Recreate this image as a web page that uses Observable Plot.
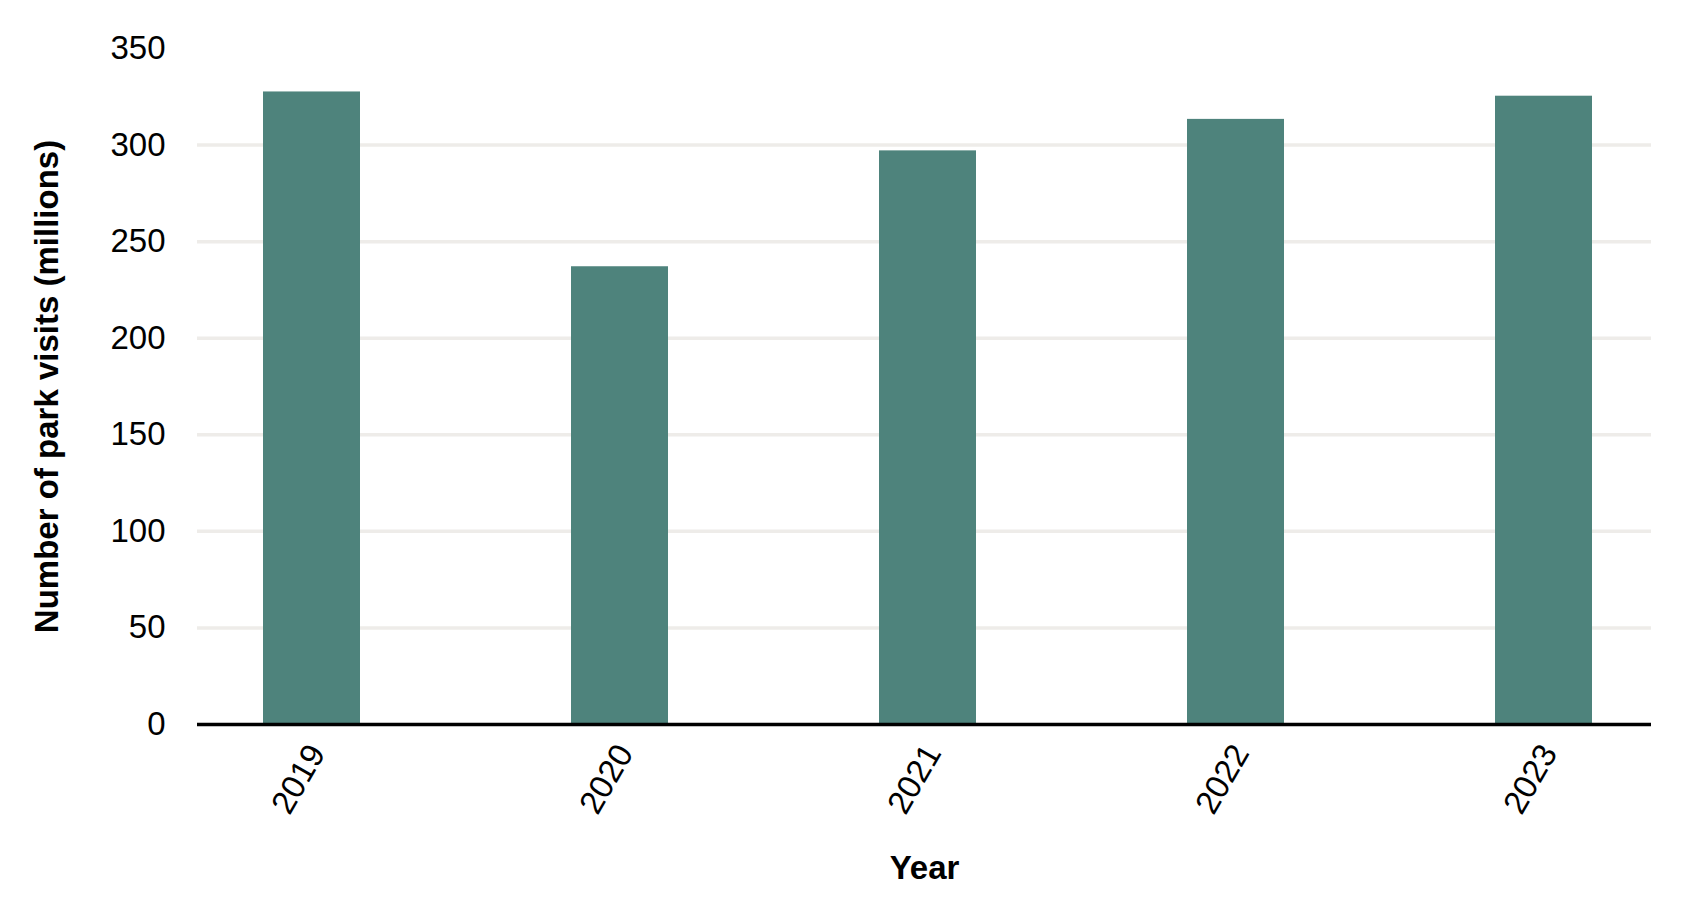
<!DOCTYPE html>
<html>
<head>
<meta charset="utf-8">
<script src="https://cdn.jsdelivr.net/npm/d3@7"></script>
<script src="https://cdn.jsdelivr.net/npm/@observablehq/plot@0.6"></script>
<style>
  html, body { margin: 0; padding: 0; background: #ffffff; }
  #chart svg { display: block; }
</style>
</head>
<body>
<div id="chart"></div>
<script>
const years = ["2019", "2020", "2021", "2022", "2023"];
const visits = [327.5, 237, 297, 313.3, 325.3];
const yTicks = [0, 50, 100, 150, 200, 250, 300, 350];
const gridTicks = [50, 100, 150, 200, 250, 300];
const xTitle = "Year";
const yTitle = "Number of park visits (millions)";

const data = years.map((year, i) => ({year, visits: visits[i]}));

const chart = Plot.plot({
  width: 1700,
  height: 912,
  marginLeft: 197,
  marginRight: 49,
  marginTop: 48,
  marginBottom: 188,
  style: {
    fontFamily: "'Liberation Sans', Arial, sans-serif",
    fontSize: "33px",
    color: "#000000",
    background: "#ffffff"
  },
  x: {domain: years, paddingInner: 0.685, paddingOuter: 0.2, align: 0.53, label: null},
  y: {domain: [0, 350], label: null},
  marks: [
    Plot.gridY(gridTicks, {stroke: "#eeece9", strokeOpacity: 1, strokeWidth: 3.5}),
    Plot.barY(data, {x: "year", y: "visits", fill: "#4e837c"}),
    Plot.ruleY([0], {stroke: "#000000", strokeWidth: 3.5}),
    Plot.axisY({ticks: yTicks, tickSize: 0, tickPadding: 32, label: null, fontSize: 33}),
    Plot.axisX({tickSize: 0, label: null, fontSize: 33, tickRotate: -60, textAnchor: "end", lineAnchor: "middle", tickPadding: 23, dx: 5}),
    Plot.text([xTitle], {text: d => d, frameAnchor: "bottom", dy: 144, fontWeight: "bold", fontSize: 33, textAnchor: "middle", lineAnchor: "middle"}),
    Plot.text([yTitle], {text: d => d, frameAnchor: "left", dx: -150, rotate: -90, fontWeight: "bold", fontSize: 33, textAnchor: "middle", lineAnchor: "middle"})
  ]
});
document.getElementById("chart").appendChild(chart);
</script>
</body>
</html>
